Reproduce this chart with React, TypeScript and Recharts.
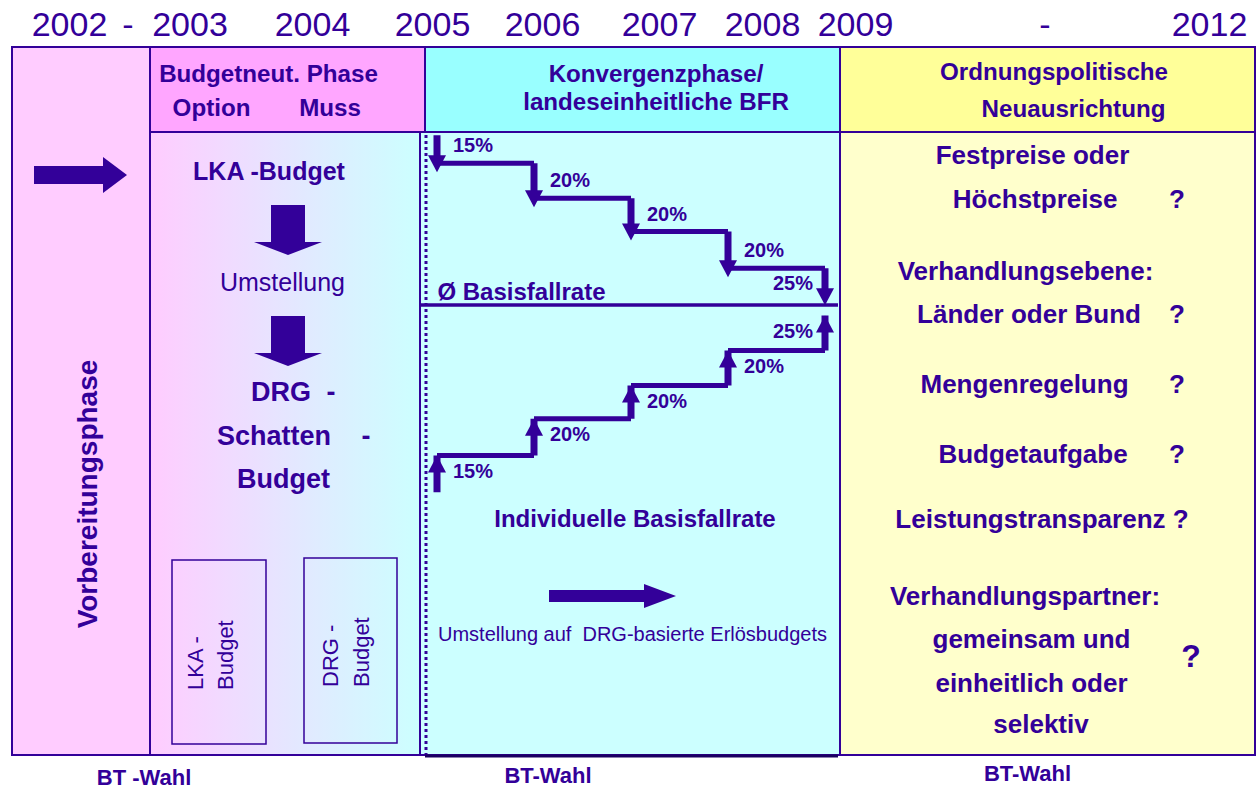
import { ComposedChart, XAxis, YAxis, Line, Scatter, ReferenceArea, ReferenceLine } from "recharts";

const PURPLE = "#330099";
const FONT = '"Liberation Sans", Arial, Helvetica, sans-serif';

// timeline at the top
const yearLabels = ["2002", "-", "2003", "2004", "2005", "2006", "2007", "2008", "2009", "-", "2012"];

// convergence steps: year and share per step (%)
const stepYears = [2005, 2006, 2007, 2008, 2009];
const stepShares = [15, 20, 20, 20, 25];
// distance to the average base rate in % (upper: lowered, lower: raised)
const downLevels = [97, 81, 61, 42, 21, 5];
const upLevels = [-107, -86, -65, -46, -26, -6];

const phaseTitles = ["Budgetneut. Phase", "Konvergenzphase/", "landeseinheitliche BFR", "Ordnungspolitische", "Neuausrichtung"];
const budgetOptions = ["Option", "Muss"];
const budgetFlow = ["LKA -Budget", "Umstellung", "DRG", "Schatten", "Budget"];
const budgetBoxes = [["LKA -", "Budget"], ["DRG -", "Budget"]];
const openIssues = [
  "Festpreise oder",
  "Höchstpreise",
  "Verhandlungsebene:",
  "Länder oder Bund",
  "Mengenregelung",
  "Budgetaufgabe",
  "Leistungstransparenz ?",
  "Verhandlungspartner:",
  "gemeinsam und",
  "einheitlich oder",
  "selektiv",
];
const electionLabels = ["BT -Wahl", "BT-Wahl", "BT-Wahl"];

// ---- layout (page units) ----
const W = 1258;
const H = 789;
const yearX = [69.5, 128, 190, 312.5, 432.5, 542.5, 659.5, 762.5, 855.5, 1045, 1209.5];
const issueX = [1032.5, 1035, 1025.5, 1029, 1024.5, 1033, 1042, 1025, 1031.5, 1031.5, 1041];
const issueY = [164, 208, 280, 323, 393, 463, 528, 605, 648, 692, 733];
const questionY = [208, 323, 393, 463];
const electionX = [144, 548, 1027.5];
const electionY = [785, 783, 781];

type Txt = { x: number; y: number; t: string; fs: number; fw?: number; a?: string; r?: number; sx?: number };

const TextShape = (props: any) => {
  const { cx, cy, payload } = props;
  const p = payload as Txt;
  return (
    <text
      transform={`translate(${cx},${cy}) rotate(${p.r || 0}) scale(${p.sx || 1},1)`}
      x={0}
      y={0}
      fontSize={p.fs}
      fontWeight={p.fw || 700}
      textAnchor={p.a || "middle"}
      fill={PURPLE}
      fontFamily={FONT}
    >
      {p.t}
    </text>
  );
};

const BlockArrow = (props: any) => {
  const { cx, cy, payload } = props;
  let pts: number[][] = [];
  if (payload.kind === "right") pts = [[0, -9], [69, -9], [69, -18], [93, 0], [69, 18], [69, 9], [0, 9]];
  if (payload.kind === "down") pts = [[-17, 0], [17, 0], [17, 37], [34, 37], [0, 50], [-34, 37], [-17, 37]];
  if (payload.kind === "long") pts = [[0, -6], [95, -6], [95, -12], [127, 0], [95, 12], [95, 6], [0, 6]];
  return <polygon points={pts.map((q) => `${cx + q[0]},${cy + q[1]}`).join(" ")} fill={PURPLE} />;
};

const HeadShape = (props: any) => {
  const { cx, cy, payload } = props;
  const pts =
    payload.dir === "down"
      ? `${cx - 9},${cy - 8} ${cx + 9},${cy - 8} ${cx},${cy + 9}`
      : `${cx - 9},${cy + 17} ${cx + 9},${cy + 17} ${cx},${cy}`;
  return <polygon points={pts} fill={PURPLE} />;
};

const ShareLabel = (props: any) => {
  const { cx, cy, payload } = props;
  const last = payload.last;
  const dy = payload.dir === "down" ? (last ? -6 : -11) : 22;
  return (
    <text
      x={last ? cx - 12 : cx + 16}
      y={cy + dy}
      fontSize={20}
      fontWeight={700}
      textAnchor={last ? "end" : "start"}
      fill={PURPLE}
      fontFamily={FONT}
    >
      {payload.t}
    </text>
  );
};

function shafts(levels: number[]) {
  const pts: any[] = [];
  stepYears.forEach((yr, i) => {
    pts.push({ yr, v: levels[i] }, { yr, v: levels[i + 1] }, { yr, v: null });
  });
  return pts;
}

function rails(levels: number[]) {
  const pts: any[] = [];
  for (let i = 0; i < stepYears.length - 1; i++) {
    pts.push({ yr: stepYears[i], v: levels[i + 1] }, { yr: stepYears[i + 1], v: levels[i + 1] }, { yr: stepYears[i + 1], v: null });
  }
  return pts;
}

function heads(levels: number[], dir: string) {
  return stepYears.map((yr, i) => ({ yr, v: levels[i + 1], dir }));
}

function shareLabels(levels: number[], dir: string) {
  return stepYears.map((yr, i) => ({ yr, v: levels[i + 1], dir, t: `${stepShares[i]}%`, last: i === stepYears.length - 1 }));
}

export default function App() {
  const texts: Txt[] = [
    ...yearLabels.map((t, i) => ({ x: yearX[i], y: 36, t, fs: 34, fw: 400 })),
    { x: 268.5, y: 82, t: phaseTitles[0], fs: 23, sx: 1.05 },
    { x: 211.5, y: 116, t: budgetOptions[0], fs: 23, sx: 1.05 },
    { x: 330, y: 116, t: budgetOptions[1], fs: 23, sx: 1.05 },
    { x: 656, y: 82, t: phaseTitles[1], fs: 23, sx: 1.05 },
    { x: 656, y: 110, t: phaseTitles[2], fs: 23, sx: 1.05 },
    { x: 1054, y: 80, t: phaseTitles[3], fs: 23, sx: 1.05 },
    { x: 1073.5, y: 117, t: phaseTitles[4], fs: 23, sx: 1.05 },
    { x: 269, y: 180, t: budgetFlow[0], fs: 25 },
    { x: 282.5, y: 291, t: budgetFlow[1], fs: 25, fw: 400 },
    { x: 251, y: 401, t: budgetFlow[2], fs: 27, a: "start" },
    { x: 331, y: 401, t: "-", fs: 27 },
    { x: 217, y: 445, t: budgetFlow[3], fs: 27, a: "start" },
    { x: 366, y: 445, t: "-", fs: 27 },
    { x: 283.5, y: 488, t: budgetFlow[4], fs: 27 },
    { x: 97, y: 494, t: "Vorbereitungsphase", fs: 28, r: -90 },
    { x: 203, y: 690, t: budgetBoxes[0][0], fs: 22, fw: 400, r: -90, a: "start" },
    { x: 233, y: 690, t: budgetBoxes[0][1], fs: 22, fw: 400, r: -90, a: "start" },
    { x: 338, y: 687, t: budgetBoxes[1][0], fs: 22, fw: 400, r: -90, a: "start" },
    { x: 369, y: 687, t: budgetBoxes[1][1], fs: 22, fw: 400, r: -90, a: "start" },
    { x: 521.5, y: 300, t: "Ø Basisfallrate", fs: 24 },
    { x: 635, y: 527, t: "Individuelle Basisfallrate", fs: 24 },
    { x: 632.5, y: 641, t: "Umstellung auf\u00a0 DRG-basierte Erlösbudgets", fs: 20, fw: 400 },
    ...openIssues.map((t, i) => ({ x: issueX[i], y: issueY[i], t, fs: 26 })),
    ...questionY.map((y) => ({ x: 1177, y, t: "?", fs: 26 })),
    { x: 1191, y: 667, t: "?", fs: 32 },
    ...electionLabels.map((t, i) => ({ x: electionX[i], y: electionY[i], t, fs: 22 })),
  ];

  const arrows = [
    { x: 34, y: 175, kind: "right" },
    { x: 288, y: 205, kind: "down" },
    { x: 288, y: 316, kind: "down" },
    { x: 549, y: 596, kind: "long" },
  ];

  const box = { stroke: PURPLE, strokeWidth: 2, fillOpacity: 1, xAxisId: "px", yAxisId: "py", ifOverflow: "visible" as const };

  return (
    <div style={{ position: "absolute", left: 0, top: 0, width: W, height: H, background: "#ffffff" }}>
      <ComposedChart width={W} height={H} margin={{ top: 0, right: 0, bottom: 0, left: 0 }}>
        <defs>
          <linearGradient id="budgetGrad" x1="0" y1="0" x2="1" y2="0">
            <stop offset="0" stopColor="#FFCCFF" />
            <stop offset="1" stopColor="#CCFFFF" />
          </linearGradient>
        </defs>
        <XAxis xAxisId="px" dataKey="x" type="number" domain={[0, W]} allowDataOverflow hide />
        <YAxis yAxisId="py" dataKey="y" type="number" domain={[0, H]} allowDataOverflow reversed hide />
        <XAxis xAxisId="year" dataKey="yr" type="number" domain={[2000.4948, 2013.4639]} allowDataOverflow hide />
        <YAxis yAxisId="gap" dataKey="v" type="number" domain={[-276.571, 174.286]} allowDataOverflow hide />

        <ReferenceArea {...box} x1={12} x2={150} y1={47} y2={755} fill="#FFCCFF" />
        <ReferenceArea {...box} x1={150} x2={420} y1={132} y2={755} fill="url(#budgetGrad)" />
        <ReferenceArea {...box} x1={420} x2={840} y1={132} y2={755} fill="#CCFFFF" />
        <ReferenceArea {...box} x1={840} x2={1255} y1={132} y2={755} fill="#FFFFCC" />
        <ReferenceArea {...box} x1={150} x2={425} y1={47} y2={132} fill="#FFA6FF" />
        <ReferenceArea {...box} x1={425} x2={840} y1={47} y2={132} fill="#99FFFF" />
        <ReferenceArea {...box} x1={840} x2={1255} y1={47} y2={132} fill="#FFFF99" />
        <ReferenceArea {...box} x1={172} x2={266} y1={560} y2={744} fill="none" strokeWidth={1.5} />
        <ReferenceArea {...box} x1={304} x2={397} y1={558} y2={743} fill="none" strokeWidth={1.5} />

        <ReferenceLine xAxisId="px" yAxisId="py" segment={[{ x: 426, y: 135 }, { x: 426, y: 755 }]} stroke={PURPLE} strokeWidth={3} strokeDasharray="3 3" />
        <ReferenceLine xAxisId="px" yAxisId="py" segment={[{ x: 425, y: 756 }, { x: 838, y: 756 }]} stroke="#1a0060" strokeWidth={3} />
        <ReferenceLine xAxisId="px" yAxisId="gap" segment={[{ x: 420, y: 0 }, { x: 838, y: 0 }]} stroke={PURPLE} strokeWidth={3.5} />

        <Line xAxisId="year" yAxisId="gap" data={rails(downLevels)} dataKey="v" stroke={PURPLE} strokeWidth={5} dot={false} activeDot={false} isAnimationActive={false} />
        <Line xAxisId="year" yAxisId="gap" data={shafts(downLevels)} dataKey="v" stroke={PURPLE} strokeWidth={7} dot={false} activeDot={false} isAnimationActive={false} />
        <Line xAxisId="year" yAxisId="gap" data={rails(upLevels)} dataKey="v" stroke={PURPLE} strokeWidth={5} dot={false} activeDot={false} isAnimationActive={false} />
        <Line xAxisId="year" yAxisId="gap" data={shafts(upLevels)} dataKey="v" stroke={PURPLE} strokeWidth={7} dot={false} activeDot={false} isAnimationActive={false} />
        <Scatter xAxisId="year" yAxisId="gap" data={heads(downLevels, "down")} dataKey="v" shape={HeadShape} isAnimationActive={false} />
        <Scatter xAxisId="year" yAxisId="gap" data={heads(upLevels, "up")} dataKey="v" shape={HeadShape} isAnimationActive={false} />
        <Scatter xAxisId="year" yAxisId="gap" data={shareLabels(downLevels, "down")} dataKey="v" shape={ShareLabel} isAnimationActive={false} />
        <Scatter xAxisId="year" yAxisId="gap" data={shareLabels(upLevels, "up")} dataKey="v" shape={ShareLabel} isAnimationActive={false} />

        <Scatter xAxisId="px" yAxisId="py" data={arrows} dataKey="y" shape={BlockArrow} isAnimationActive={false} />
        <Scatter xAxisId="px" yAxisId="py" data={texts} dataKey="y" shape={TextShape} isAnimationActive={false} />
      </ComposedChart>
    </div>
  );
}
